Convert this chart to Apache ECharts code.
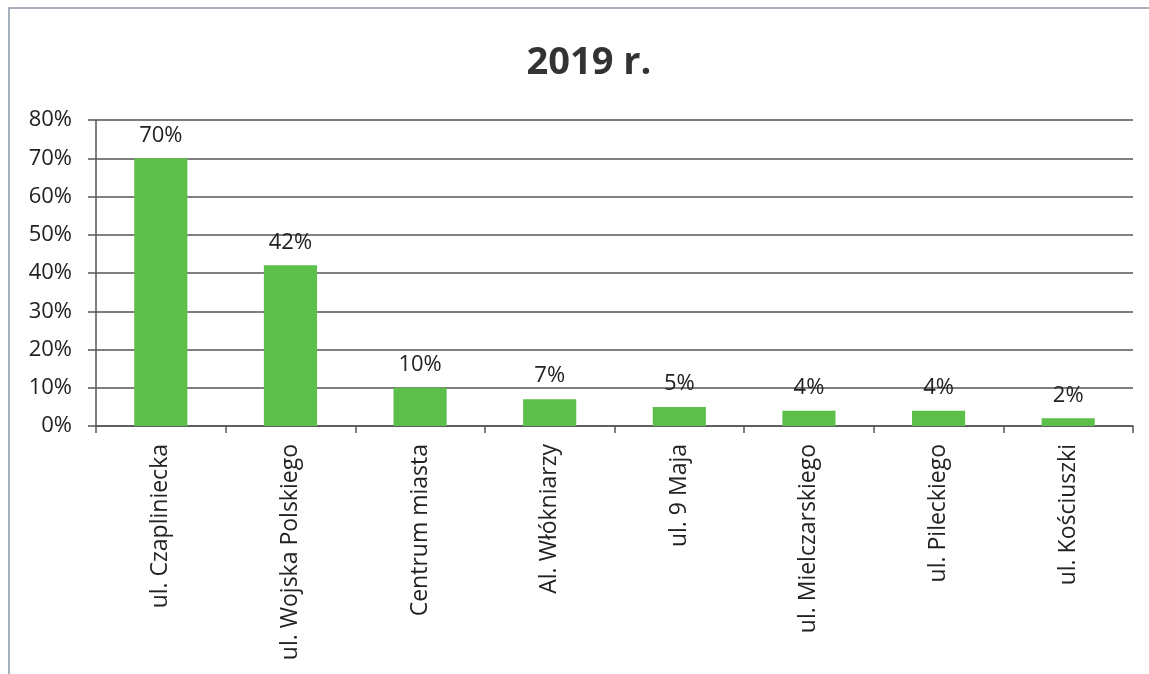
<!DOCTYPE html>
<html><head><meta charset="utf-8">
<script src="https://cdn.jsdelivr.net/npm/echarts@6/dist/echarts.min.js"></script>
<style>html,body{margin:0;padding:0;background:#fff}#c{width:1149px;height:674px}</style>
</head><body><div id="c"></div>
<script>
const categories = ['ul. Czapliniecka','ul. Wojska Polskiego','Centrum miasta','Al. Włókniarzy','ul. 9 Maja','ul. Mielczarskiego','ul. Pileckiego','ul. Kościuszki'];
const values = [70, 42, 10, 7, 5, 4, 4, 2];
const yTicks = [0, 10, 20, 30, 40, 50, 60, 70, 80];
const title = '2019 r.';

const chart = echarts.init(document.getElementById('c'), null, {renderer:'canvas'});
const font = 'Open Sans';
chart.setOption({
  animation:false,
  backgroundColor:'#fff',
  graphic:[{type:'polyline', shape:{points:[[9,700],[9,8],[1160,8]]}, style:{stroke:'#8a96a8', lineWidth:1.5, fill:null}}],
  title:{text:title, left:584, top:39, textAlign:'center',
    textStyle:{fontFamily:font, fontSize:38, fontWeight:'bold', color:'#333'}},
  grid:{left:96, right:16, top:120, bottom:248, containLabel:false},
  xAxis:{type:'category', data:categories,
    axisLine:{lineStyle:{color:'#555', width:1.5}},
    axisTick:{show:true, length:7, lineStyle:{color:'#555', width:1.5}},
    axisLabel:{rotate:90, interval:0, margin:18, fontFamily:font, fontSize:23, color:'#222'}},
  yAxis:{type:'value', min:yTicks[0], max:yTicks[yTicks.length-1], interval:10,
    axisLine:{show:true, lineStyle:{color:'#555', width:1.5}},
    axisTick:{show:true, inside:false, length:8, lineStyle:{color:'#555', width:1.5}},
    splitLine:{lineStyle:{color:'#555', width:1.5}},
    axisLabel:{formatter:'{value}%', margin:24, fontFamily:font, fontSize:22, color:'#222'}},
  series:[{type:'bar', data:values, barCategoryGap:'59%',
    itemStyle:{color:'#5bbf4a'},
    label:{show:true, position:'top', distance:12, formatter:'{c}%', fontFamily:font, fontSize:22, color:'#222'}}]
});
</script></body></html>
